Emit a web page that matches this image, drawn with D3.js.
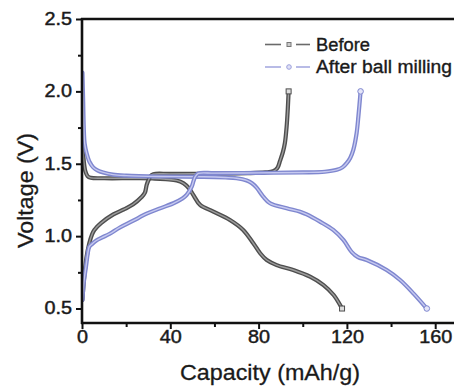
<!DOCTYPE html>
<html>
<head>
<meta charset="utf-8">
<script src="https://cdn.jsdelivr.net/npm/d3@7/dist/d3.min.js"></script>
<style>
  html, body { margin: 0; padding: 0; background: #fff; }
  svg { display: block; }
  text { font-family: "Liberation Sans", Arial, Helvetica, sans-serif; }
</style>
</head>
<body>
<div id="chart"></div>
<script>
// ---- data (Capacity mAh/g, Voltage V) ----
const seriesNames = ["Before", "After ball milling"];
const xTicks = [0, 40, 80, 120, 160];
const xMinorTicks = [20, 60, 100, 140];
const yTicks = [0.5, 1.0, 1.5, 2.0, 2.5];
const yMinorTicks = [0.75, 1.25, 1.75, 2.25];

const beforeDischarge = [[0.3,1.62],[0.8,1.52],[1.5,1.45],[2.5,1.415],[4,1.403],[10,1.40],[25,1.40],[33,1.398],[38,1.393],[42.9,1.385],[46,1.365],[48.5,1.33],[50.4,1.285],[53.5,1.216],[59.5,1.17],[67,1.112],[73,1.043],[77.6,0.951],[80.7,0.882],[83.7,0.835],[88.2,0.80],[95.7,0.766],[103.3,0.72],[109.4,0.662],[114,0.593],[117.8,0.50]];
const beforeCharge = [[0.2,0.56],[0.6,0.65],[1.0,0.72],[2.0,0.85],[3.3,0.951],[4.5,1.01],[5.6,1.043],[8.6,1.09],[14.2,1.15],[19,1.185],[23.2,1.22],[27,1.27],[28.5,1.30],[29.3,1.354],[30.2,1.39],[31,1.415],[32.3,1.428],[40,1.43],[60,1.432],[75,1.435],[83,1.44],[86.6,1.448],[88.5,1.47],[89.7,1.52],[91,1.58],[91.9,1.642],[92.7,1.757],[93.2,1.873],[93.6,2.0]];
const afterDischarge = [[0.2,2.13],[0.5,1.95],[0.8,1.75],[1.2,1.64],[2.1,1.573],[3.5,1.51],[5.1,1.475],[7,1.455],[9.6,1.44],[14,1.425],[20,1.418],[35,1.412],[55,1.41],[65,1.405],[70,1.40],[74.6,1.385],[77,1.365],[79.1,1.335],[82.1,1.273],[85.2,1.227],[92.7,1.193],[98.8,1.169],[101.8,1.15],[107.8,1.10],[113.8,1.043],[118.4,0.974],[122.2,0.89],[125,0.855],[129,0.835],[138,0.766],[144.1,0.697],[150.1,0.605],[156.2,0.50]];
const afterCharge = [[0.2,0.56],[0.8,0.68],[1.8,0.789],[2.6,0.88],[3.3,0.927],[4.5,0.945],[6.5,0.97],[9,0.99],[12.4,1.015],[17.2,1.06],[23,1.105],[29.3,1.155],[35,1.19],[41.4,1.227],[45.5,1.26],[47.4,1.285],[49.7,1.342],[50.5,1.38],[51.3,1.411],[52.7,1.433],[60,1.435],[80,1.437],[100,1.44],[110,1.445],[115.4,1.458],[118,1.475],[119.9,1.504],[121.5,1.54],[122.9,1.596],[124.4,1.712],[125.2,1.826],[126.2,2.0]];

// ---- layout ----
const W = 454, H = 387;
const mLeft = 82, mTop = 19, mBottom = 323;
const x = d3.scaleLinear().domain([0, 170]).range([mLeft, mLeft + 170 * 2.2075]);
const y = d3.scaleLinear().domain([0.4, 2.5]).range([mBottom, mTop]);

const svg = d3.select("#chart").append("svg").attr("width", W).attr("height", H);

svg.append("defs").append("clipPath").attr("id", "plot")
  .append("rect").attr("x", mLeft).attr("y", mTop - 6).attr("width", W - mLeft).attr("height", mBottom - mTop + 6);

const styles = [
  { outer: "#4e4e4e", inner: "#9c9c9c", legLine: "#6a6a6a", marker: "square" },
  { outer: "#7f87cf", inner: "#c6c9f0", legLine: "#a7abe0", marker: "circle" }
];

const line = d3.line().x(d => x(d[0])).y(d => y(d[1])).curve(d3.curveCatmullRom.alpha(0.5));
const plot = svg.append("g").attr("clip-path", "url(#plot)");

const groups = [[beforeDischarge, beforeCharge], [afterDischarge, afterCharge]];
groups.forEach((curves, i) => {
  const st = styles[i];
  curves.forEach(c => {
    plot.append("path").attr("d", line(c)).attr("fill", "none")
      .attr("stroke", st.outer).attr("stroke-width", 4.2).attr("stroke-linejoin", "round").attr("stroke-linecap", "round");
    plot.append("path").attr("d", line(c)).attr("fill", "none")
      .attr("stroke", st.inner).attr("stroke-width", 1.4).attr("stroke-linejoin", "round");
    const e = c[c.length - 1];
    if (st.marker === "square") {
      plot.append("rect").attr("x", x(e[0]) - 2.5).attr("y", y(e[1]) - 2.5).attr("width", 5).attr("height", 5)
        .attr("fill", "#ddd").attr("stroke", st.outer).attr("stroke-width", 1);
    } else {
      plot.append("circle").attr("cx", x(e[0])).attr("cy", y(e[1])).attr("r", 2.8)
        .attr("fill", "#e4e5f8").attr("stroke", st.outer).attr("stroke-width", 1);
    }
  });
});

// ---- axes ----
const axisColor = "#111";
const textColor = "#1a1a1a";
const xAxis = svg.append("g").attr("transform", `translate(0,${mBottom})`)
  .call(d3.axisBottom(x).tickValues(xTicks).tickSize(6).tickPadding(4).tickFormat(d3.format("d")));
const xMinor = svg.append("g").attr("transform", `translate(0,${mBottom})`)
  .call(d3.axisBottom(x).tickValues(xMinorTicks).tickSize(4).tickFormat(""));
const yAxis = svg.append("g").attr("transform", `translate(${mLeft},0)`)
  .call(d3.axisLeft(y).tickValues(yTicks).tickSize(6).tickPadding(3).tickFormat(d3.format(".1f")));
const yMinor = svg.append("g").attr("transform", `translate(${mLeft},0)`)
  .call(d3.axisLeft(y).tickValues(yMinorTicks).tickSize(4).tickFormat(""));

[xAxis, xMinor, yAxis, yMinor].forEach(g => {
  g.select(".domain").remove();
  g.selectAll(".tick line").attr("stroke", axisColor).attr("stroke-width", 2);
});
xAxis.selectAll(".tick text").attr("font-size", 18).attr("fill", textColor).attr("dy", "0.72em")
  .attr("stroke", textColor).attr("stroke-width", 0.45)
  .attr("transform", "scale(1.1,1)").attr("y", 7);
yAxis.selectAll(".tick text").attr("font-size", 18).attr("fill", textColor).attr("dy", "0.3em")
  .attr("stroke", textColor).attr("stroke-width", 0.45)
  .attr("x", -9).attr("transform", "scale(1.1,1)");

// frame lines: left, bottom, top
svg.append("line").attr("x1", mLeft).attr("x2", mLeft).attr("y1", mTop - 1).attr("y2", mBottom + 1)
  .attr("stroke", axisColor).attr("stroke-width", 2.6);
svg.append("line").attr("x1", mLeft - 1).attr("x2", W).attr("y1", mBottom).attr("y2", mBottom)
  .attr("stroke", axisColor).attr("stroke-width", 2.6);
svg.append("line").attr("x1", mLeft - 1).attr("x2", W).attr("y1", mTop).attr("y2", mTop)
  .attr("stroke", axisColor).attr("stroke-width", 2.6);

// axis titles
svg.append("text").attr("x", 270).attr("y", 380).attr("text-anchor", "middle")
  .attr("font-size", 22).attr("fill", textColor).attr("stroke", textColor).attr("stroke-width", 0.3)
  .attr("textLength", 180).attr("lengthAdjust", "spacingAndGlyphs")
  .text("Capacity (mAh/g)");
svg.append("text").attr("transform", "translate(33,190.5) rotate(-90)").attr("text-anchor", "middle")
  .attr("font-size", 22).attr("fill", textColor).attr("stroke", textColor).attr("stroke-width", 0.3)
  .attr("textLength", 115).attr("lengthAdjust", "spacingAndGlyphs")
  .text("Voltage (V)");

// legend
const legY = [44.5, 67];
const legW = [54, 136];
seriesNames.forEach((name, i) => {
  const st = styles[i];
  const g = svg.append("g");
  g.append("line").attr("x1", 265).attr("x2", 281).attr("y1", legY[i]).attr("y2", legY[i])
    .attr("stroke", st.legLine).attr("stroke-width", 1.6);
  g.append("line").attr("x1", 296).attr("x2", 310).attr("y1", legY[i]).attr("y2", legY[i])
    .attr("stroke", st.legLine).attr("stroke-width", 1.6);
  if (st.marker === "square") {
    g.append("rect").attr("x", 287).attr("y", legY[i] - 2).attr("width", 4).attr("height", 4)
      .attr("fill", "#ccc").attr("stroke", "#777").attr("stroke-width", 1);
  } else {
    g.append("circle").attr("cx", 289).attr("cy", legY[i]).attr("r", 2.3)
      .attr("fill", "#dfe0f6").attr("stroke", "#9ca0dc").attr("stroke-width", 1);
  }
  g.append("text").attr("x", 316).attr("y", legY[i] + 6.2).attr("font-size", 18).attr("fill", textColor)
    .attr("stroke", textColor).attr("stroke-width", 0.35)
    .attr("textLength", legW[i]).attr("lengthAdjust", "spacingAndGlyphs").text(name);
});
</script>
</body>
</html>
